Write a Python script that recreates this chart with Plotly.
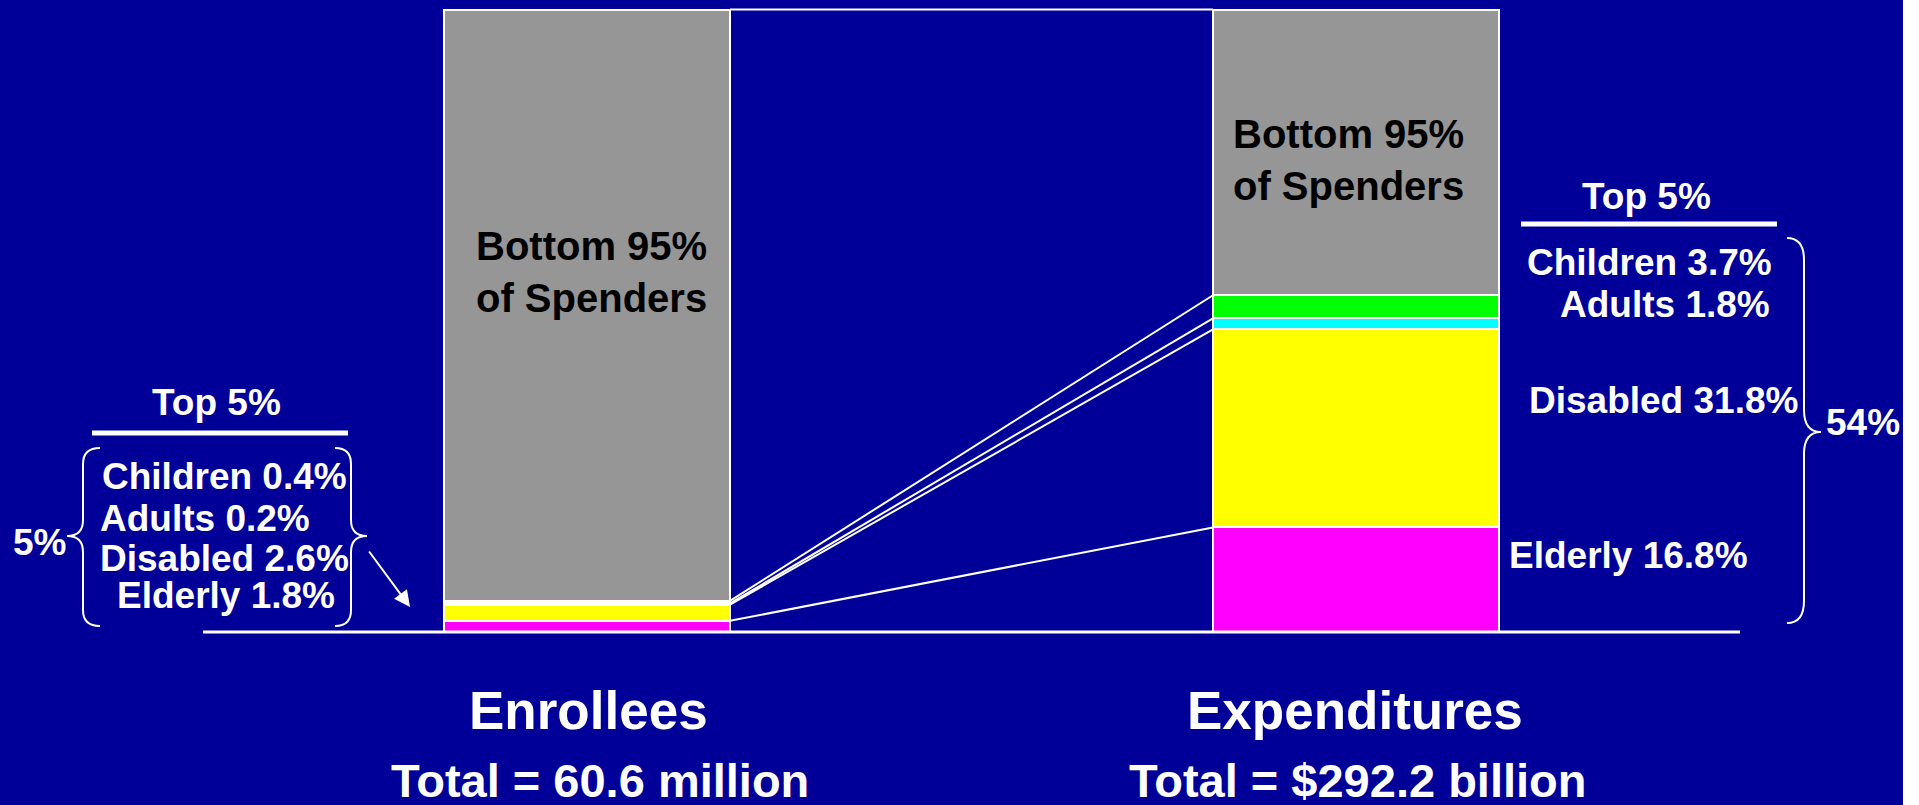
import plotly.graph_objects as go

# ---- data -------------------------------------------------------------
categories = ["Enrollees", "Expenditures"]
category_totals = ["Total = 60.6 million", "Total = $292.2 billion"]
groups = ["Elderly", "Disabled", "Adults", "Children"]
enrollee_share = [1.8, 2.6, 0.2, 0.4]        # % of enrollees in the top 5% of spenders
expenditure_share = [16.8, 31.8, 1.8, 3.7]   # % of expenditures from the top 5% of spenders
rest_label = "Bottom 95%<br>of Spenders"

# ---- styling / layout -------------------------------------------------
BG = "#000099"
W, H = 1919, 805
FONT = "Liberation Sans, Arial, sans-serif"
group_colors = ["#FF00FF", "#FFFF00", "#00FFFF", "#00FF00"]
rest_color = "#969696"
bar_x = [587, 1356]
bar_w = 286
y_range = [-27.79, 101.53]   # share axis, 0 at the baseline


def py(v):
    """pixel row -> paper fraction"""
    return 1 - v / H


shares = [enrollee_share, expenditure_share]
rest = [round(100 - sum(s), 1) for s in shares]

fig = go.Figure()

for i, g in enumerate(groups):
    fig.add_trace(go.Bar(
        x=bar_x, y=[enrollee_share[i], expenditure_share[i]], width=bar_w,
        name=g, marker=dict(color=group_colors[i], line=dict(color="white", width=2)),
        hoverinfo="skip"))
fig.add_trace(go.Bar(
    x=bar_x, y=rest, width=bar_w, name="Bottom 95%",
    marker=dict(color=rest_color, line=dict(color="white", width=2)),
    hoverinfo="skip"))

# connectors between the tops of matching segments
def cumulative(vals):
    out, s = [], 0
    for v in vals:
        s += v
        out.append(s)
    return out

left_tops = cumulative(enrollee_share + [rest[0]])
right_tops = cumulative(expenditure_share + [rest[1]])
x_left = bar_x[0] + bar_w / 2
x_right = bar_x[1] - bar_w / 2
for a, b in zip(left_tops, right_tops):
    fig.add_trace(go.Scatter(x=[x_left, x_right], y=[a, b], mode="lines",
                             line=dict(color="white", width=2), hoverinfo="skip"))

shapes = []
# baseline
shapes.append(dict(type="line", xref="x", yref="y", x0=203, x1=1740, y0=0, y1=0,
                   line=dict(color="white", width=3)))
# "Top 5%" underlines
shapes.append(dict(type="line", xref="x", yref="paper", x0=92, x1=348, y0=py(433), y1=py(433),
                   line=dict(color="white", width=5)))
shapes.append(dict(type="line", xref="x", yref="paper", x0=1521, x1=1777, y0=py(224), y1=py(224),
                   line=dict(color="white", width=5)))


def brace(x_end, x_spine, x_tip, y_top, y_bot, y_tip, r=16):
    pts = [
        f"M {x_end},{py(y_top)}",
        f"Q {x_spine},{py(y_top)} {x_spine},{py(y_top + r)}",
        f"L {x_spine},{py(y_tip - r)}",
        f"Q {x_spine},{py(y_tip)} {x_tip},{py(y_tip)}",
        f"Q {x_spine},{py(y_tip)} {x_spine},{py(y_tip + r)}",
        f"L {x_spine},{py(y_bot - r)}",
        f"Q {x_spine},{py(y_bot)} {x_end},{py(y_bot)}",
    ]
    return dict(type="path", xref="x", yref="paper", path=" ".join(pts),
                line=dict(color="white", width=2))


shapes.append(brace(100, 83, 67, 448, 626, 536))
shapes.append(brace(335, 351, 367, 448, 626, 536))
shapes.append(brace(1787, 1804, 1821, 238, 623, 432, r=22))
# white strip at the right edge of the page
shapes.append(dict(type="rect", xref="x", yref="paper", x0=1903, x1=W, y0=0, y1=1,
                   fillcolor="white", line=dict(width=0), layer="above"))

ann = []


def label(text, x, y, size=37, color="white", xanchor="center"):
    ann.append(dict(text=text, x=x, y=py(y), xref="x", yref="paper", showarrow=False,
                    xanchor=xanchor, yanchor="middle",
                    font=dict(family=FONT, size=size, color=color, weight="bold")))


# bar texts
label(rest_label, 591, 272, size=40, color="black")
label(rest_label, 1348, 160, size=40, color="black")

# left side: enrollees
label("Top 5%", 216, 402)
left_pos = {"Children": (100, 476), "Adults": (98, 518), "Disabled": (98, 558), "Elderly": (115, 595)}
for g, v in zip(groups, enrollee_share):
    x, y = left_pos[g]
    label(f"{g} {v}%", x, y, xanchor="left")
label(f"{sum(enrollee_share):.0f}%", 39, 542)

# right side: expenditures
label("Top 5%", 1646, 197)
right_pos = {"Children": (1525, 262), "Adults": (1558, 305), "Disabled": (1527, 400), "Elderly": (1507, 555)}
for g, v in zip(groups, expenditure_share):
    x, y = right_pos[g]
    label(f"{g} {v}%", x, y, xanchor="left")
label(f"{sum(expenditure_share):.0f}%", 1863, 423)

# category titles under the bars
label(categories[0], 588, 710, size=53)
label(categories[1], 1355, 710, size=53)
label(category_totals[0], 600, 780, size=47)
label(category_totals[1], 1358, 780, size=47)

# arrow pointing at the thin top-5% slice of the enrollee bar
ann.append(dict(text="", x=410, y=py(607), xref="x", yref="paper",
                showarrow=True, axref="pixel", ayref="pixel", ax=-42, ay=-57,
                arrowhead=2, arrowsize=1.6, arrowwidth=2, arrowcolor="white"))

fig.update_layout(
    width=W, height=H, margin=dict(l=0, r=0, t=0, b=0),
    paper_bgcolor=BG, plot_bgcolor=BG, barmode="stack", bargap=0,
    showlegend=False,
    xaxis=dict(range=[0, W], visible=False, fixedrange=True),
    yaxis=dict(range=y_range, visible=False, fixedrange=True),
    shapes=shapes, annotations=ann,
)

fig.write_html("out.html", config={"displayModeBar": False})
